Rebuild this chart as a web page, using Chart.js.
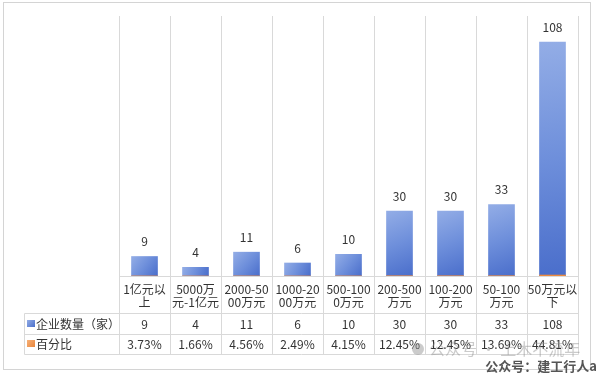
<!DOCTYPE html>
<html>
<head>
<meta charset="utf-8">
<script src="https://cdn.jsdelivr.net/npm/chart.js@4/dist/chart.umd.min.js"></script>
<style>
html,body{margin:0;padding:0;background:#fff;}
#wrap{position:relative;width:597px;height:374px;}
</style>
</head>
<body>
<div id="wrap"><canvas id="c" width="597" height="374"></canvas></div>
<script>
const categories = [
  ["1亿元以","上"],
  ["5000万","元-1亿元"],
  ["2000-50","00万元"],
  ["1000-20","00万元"],
  ["500-100","0万元"],
  ["200-500","万元"],
  ["100-200","万元"],
  ["50-100","万元"],
  ["50万元以","下"]
];
const counts = [9, 4, 11, 6, 10, 30, 30, 33, 108];
const percentages = [3.73, 1.66, 4.56, 2.49, 4.15, 12.45, 12.45, 13.69, 44.81];
const seriesNames = ["企业数量（家）", "百分比"];
const yTicks = { min: 0, max: 120 };

const FONT = '"Noto Sans CJK SC", "Noto Sans", sans-serif';
const TXT = '#333333';
const LINE = '#d9d9d9';

function blueFill(ctx) {
  const chart = ctx.chart;
  if (!chart.chartArea || ctx.type !== 'data') return '#6b8bd6';
  const y = chart.scales.y, x = chart.scales.x;
  const top = y.getPixelForValue(ctx.raw);
  const bottom = y.getPixelForValue(0);
  const cx = x.getPixelForValue(ctx.dataIndex);
  const g = chart.ctx.createLinearGradient(cx - 13, top, cx + 13, Math.max(bottom, top + 1));
  g.addColorStop(0, '#93ade6');
  g.addColorStop(0.5, '#6e8fdb');
  g.addColorStop(1, '#4a6ecb');
  return g;
}

const tablePlugin = {
  id: 'tablePlugin',
  afterDraw(chart) {
    const c = chart.ctx;
    const xs = chart.scales.x;
    const area = chart.chartArea;
    const n = categories.length;
    const colW = (area.right - area.left) / n;
    const yAxisTop = area.bottom;
    const yRow1 = 313.5, yRow2 = 334.5, yEnd = 354.5;
    const tableLeft = 24.5;
    c.save();
    // outer frame
    c.strokeStyle = '#d4d4d4';
    c.lineWidth = 1;
    c.strokeRect(3.5, 2.5, 587, 367);
    // table lines
    c.strokeStyle = LINE;
    c.beginPath();
    for (let i = 0; i <= n; i++) {
      const x = Math.round(area.left + i * colW) + 0.5;
      c.moveTo(x, yAxisTop);
      c.lineTo(x, yEnd);
    }
    c.moveTo(tableLeft, yRow1); c.lineTo(tableLeft, yEnd);
    [yRow1, yRow2, yEnd].forEach(y => { c.moveTo(tableLeft, y); c.lineTo(Math.round(area.right) + 0.5, y); });
    c.stroke();

    // legend keys
    const kb = c.createLinearGradient(27, 320, 35, 327);
    kb.addColorStop(0, '#93ade6'); kb.addColorStop(1, '#4a6ecb');
    c.fillStyle = kb; c.fillRect(27, 320, 8, 7);
    const ko = c.createLinearGradient(27, 340, 35, 347);
    ko.addColorStop(0, '#f7b27a'); ko.addColorStop(1, '#e9853a');
    c.fillStyle = ko; c.fillRect(27, 340, 8, 7);

    c.fillStyle = TXT;
    c.font = '12px ' + FONT;
    c.textBaseline = 'middle';
    c.textAlign = 'left';
    c.fillText(seriesNames[0], 36, 324);
    c.fillText(seriesNames[1], 36, 344.5);

    // row values
    c.textAlign = 'center';
    for (let i = 0; i < n; i++) {
      const cx = xs.getPixelForValue(i);
      c.fillText(String(counts[i]), cx, 324);
      c.fillText(percentages[i].toFixed(2) + '%', cx, 344.5);
    }

    // data labels above bars
    const meta = chart.getDatasetMeta(0);
    meta.data.forEach((bar, i) => {
      c.fillText(String(counts[i]), bar.x, bar.y - 15);
    });

    // watermarks
    c.fillStyle = 'rgba(140,140,140,0.45)';
    c.beginPath(); c.arc(418, 349, 6, 0, Math.PI * 2); c.fill();
    c.font = '16px ' + FONT;
    c.textAlign = 'left';
    c.fillText('公众号 · 土木不流年', 429, 349);
    c.fillStyle = '#555555';
    c.font = 'bold 13px ' + FONT;
    c.textAlign = 'right';
    c.fillText('公众号：建工行人a', 597, 366);
    c.restore();
  }
};

new Chart(document.getElementById('c'), {
  type: 'bar',
  data: {
    labels: categories,
    datasets: [
      {
        label: seriesNames[0],
        data: counts,
        backgroundColor: blueFill,
        borderWidth: 0,
        barThickness: 26,
        grouped: false,
        order: 2
      },
      {
        label: seriesNames[1],
        data: percentages.map(p => p / 100),
        backgroundColor: '#ee8a3e',
        borderWidth: 0,
        barThickness: 26,
        grouped: false,
        order: 1
      }
    ]
  },
  options: {
    responsive: false,
    animation: false,
    devicePixelRatio: 1,
    layout: { padding: { left: 119, right: 19, top: 16, bottom: 20 } },
    plugins: { legend: { display: false }, tooltip: { enabled: false } },
    scales: {
      x: {
        offset: true,
        grid: { offset: true, color: LINE, drawTicks: false, lineWidth: 1 },
        border: { display: true, color: LINE },
        ticks: {
          autoSkip: false, maxRotation: 0, minRotation: 0,
          color: TXT, padding: 7,
          font: { size: 12, family: FONT, lineHeight: 1.1 }
        },
        afterFit(s) { s.height = 78; }
      },
      y: {
        display: false,
        min: yTicks.min,
        max: yTicks.max
      }
    }
  },
  plugins: [tablePlugin]
});
</script>
</body>
</html>
